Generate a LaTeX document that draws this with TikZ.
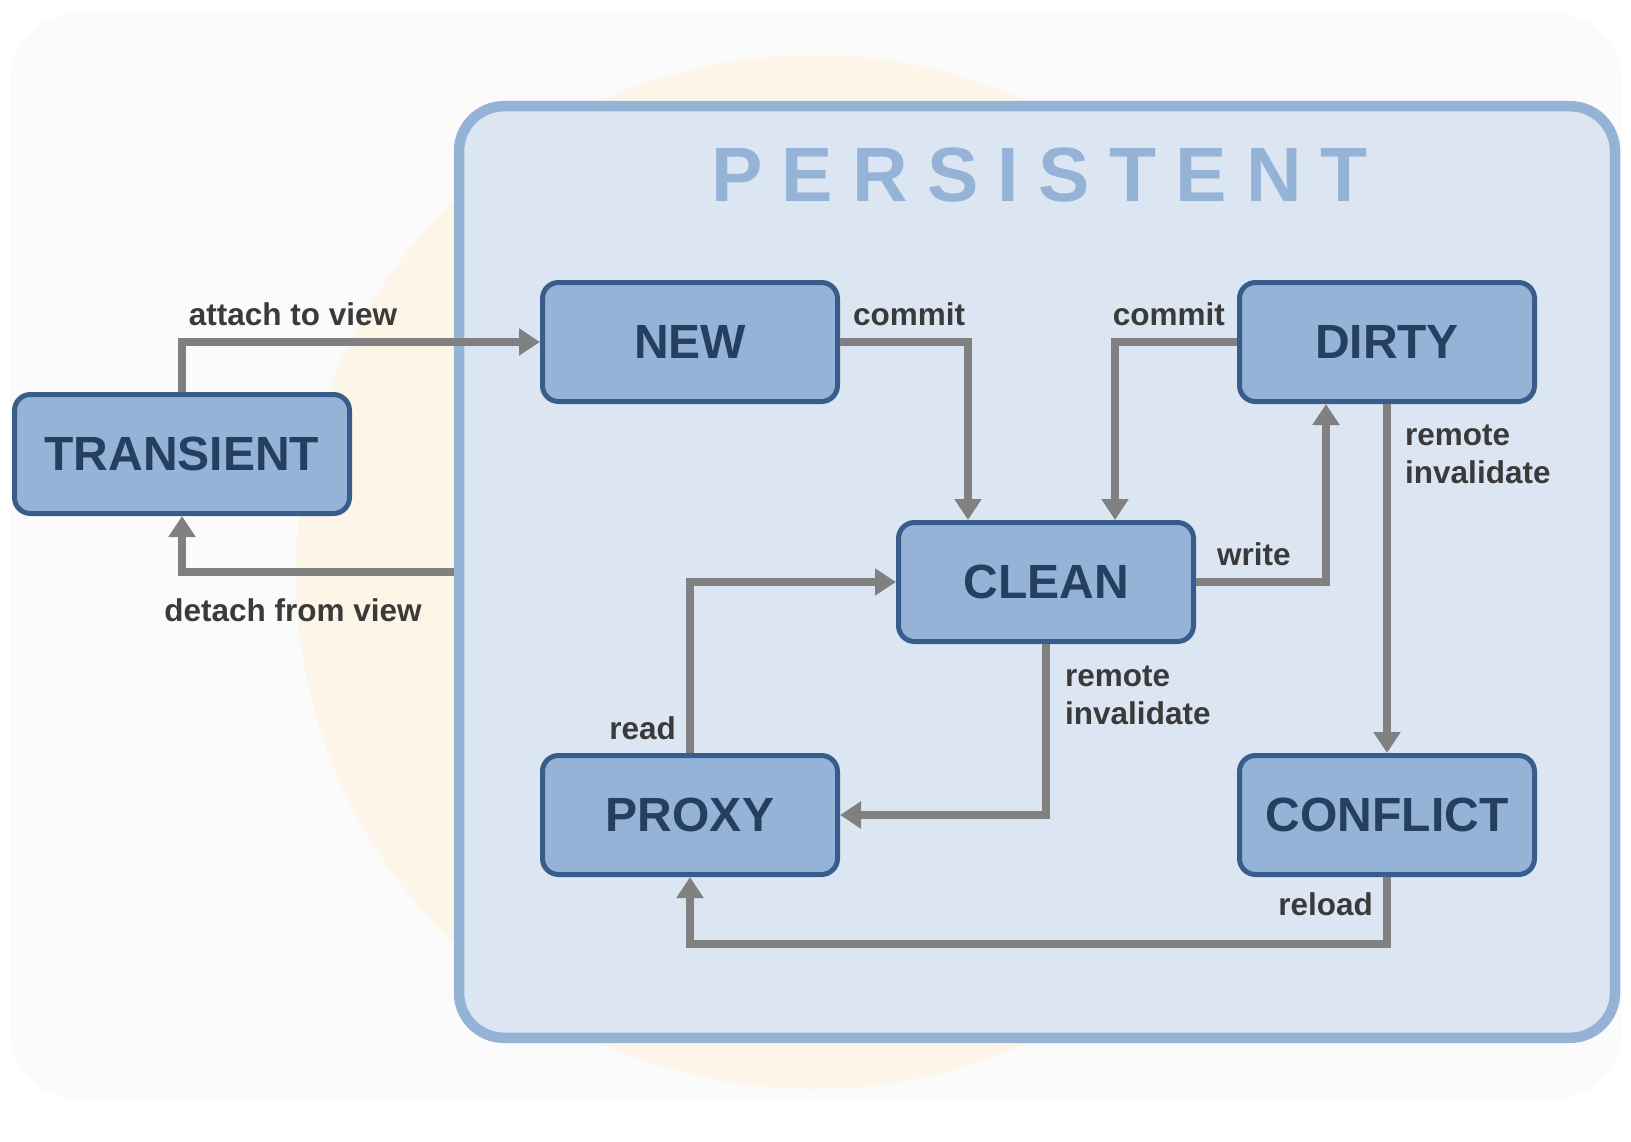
\documentclass[tikz,border=0pt]{standalone}
\usepackage{fontspec}
\setmainfont{Liberation Sans}
\usetikzlibrary{arrows.meta}
\definecolor{boxfill}{HTML}{95B3D7}
\definecolor{boxline}{HTML}{385D8A}
\definecolor{boxtext}{HTML}{243F60}
\definecolor{contfill}{HTML}{DCE6F2}
\definecolor{contline}{HTML}{95B3D7}
\definecolor{arrowgray}{HTML}{808080}
\definecolor{labelgray}{HTML}{3A3A3A}
\definecolor{circfill}{HTML}{FDF5E7}
\definecolor{ghost}{HTML}{FBFBFC}
\begin{document}
\begin{tikzpicture}[x=1pt,y=-1pt,
  state/.style={draw=boxline, line width=5pt, fill=boxfill, rounded corners=16pt,
    minimum width=295pt, minimum height=119pt, inner sep=0pt,
    font=\fontsize{48}{55}\selectfont\bfseries, text=boxtext},
  conn/.style={draw=arrowgray, line width=7.5pt, -{Triangle[length=21pt,width=26pt]}},
  lbl/.style={inner sep=0pt, font=\fontsize{31.5}{38}\selectfont\bfseries, text=labelgray, align=left}]
% canvas
\path[fill=white, use as bounding box] (0,0) rectangle (1631,1142);
\path[fill=ghost, rounded corners=70pt] (10,12) rectangle (1622,1100);
\path[fill=circfill] (813,572) circle[radius=517];
% container
\node[draw=contline, fill=contfill, line width=10.5pt, rounded corners=45pt,
  minimum width=1156pt, minimum height=931.6pt, inner sep=0pt] (persist) at (1037,572) {};
\node[anchor=base west, inner sep=0pt, text=contline,
  font=\fontsize{77}{80}\selectfont\bfseries\addfontfeature{LetterSpace=25}] (title) at (711,201.7) {PERSISTENT};
% states
\node[state] (new) at (690,342) {NEW};
\node[state] (dirty) at (1387,342) {DIRTY};
\node[state, minimum width=335pt] (transient) at (182,454) {TRANSIENT};
\node[state] (clean) at (1046,582) {CLEAN};
\node[state] (proxy) at (690,815) {PROXY};
\node[state] (conflict) at (1387,815) {CONFLICT};
% connectors
\draw[conn] (transient.north) |- (new.west);
\draw[conn] (persist.west) -| (transient.south);
\draw[conn] (new.east) -| ([xshift=-78pt]clean.north);
\draw[conn] (dirty.west) -| ([xshift=69pt]clean.north);
\draw[conn] (clean.east) -| ([xshift=-61pt]dirty.south);
\draw[conn] (dirty.south) -- (conflict.north);
\draw[conn] (clean.south) |- (proxy.east);
\draw[conn] (proxy.north) |- (clean.west);
\draw[conn] (conflict.south) -- ++(0,67) -| (proxy.south);
% labels
\node[lbl, anchor=base] (latt) at (293,325) {attach to view};
\node[lbl, anchor=base] (ldet) at (293,621) {detach from view};
\node[lbl, anchor=base west] (lcom1) at (853,325) {commit};
\node[lbl, anchor=base east] (lcom2) at (1225,325) {commit};
\node[lbl, anchor=base west] (lwrite) at (1217,565) {write};
\node[lbl, anchor=base west] (lrem1) at (1405,483) {remote\\invalidate};
\node[lbl, anchor=base west] (lrem2) at (1065,724) {remote\\invalidate};
\node[lbl, anchor=base east] (lread) at (676,739) {read};
\node[lbl, anchor=base east] (lreload) at (1373,915) {reload};
\end{tikzpicture}
\end{document}
